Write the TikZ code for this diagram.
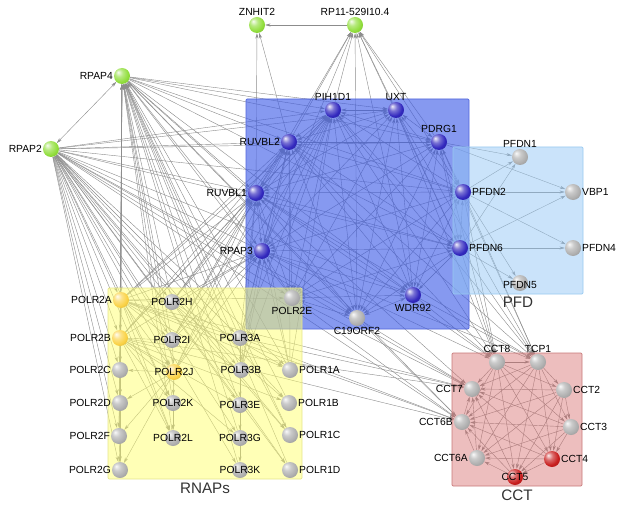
\documentclass[tikz,border=0pt]{standalone}
\usepackage{fontspec}
\setmainfont{Liberation Sans}
\usetikzlibrary{arrows.meta, positioning, fit}
\pgfdeclarelayer{edges}
\pgfdeclarelayer{boxes}
\pgfsetlayers{edges,boxes,main}

\makeatletter
\pgfdeclareradialshading[tikz@ball]{glossy}{\pgfqpoint{-12bp}{12bp}}{%
  color(0bp)=(tikz@ball!8!white);
  color(12bp)=(tikz@ball!65!white);
  color(26bp)=(tikz@ball);
  color(42bp)=(tikz@ball!80!black);
  color(64bp)=(tikz@ball!55!black)}
\makeatother

\definecolor{ppigray}{RGB}{140,140,140}
\definecolor{ballgreen}{RGB}{145,222,60}
\definecolor{ballblue}{RGB}{50,40,190}
\definecolor{ballgray}{RGB}{175,175,175}
\definecolor{ballyellow}{RGB}{250,210,70}
\definecolor{ballred}{RGB}{200,30,30}
\definecolor{corefill}{RGB}{60,90,230}
\definecolor{coreline}{RGB}{80,100,220}
\definecolor{pfdfill}{RGB}{150,200,245}
\definecolor{pfdline}{RGB}{150,200,240}
\definecolor{rnapfill}{RGB}{255,255,110}
\definecolor{rnapline}{RGB}{230,230,140}
\definecolor{cctfill}{RGB}{215,110,110}
\definecolor{cctline}{RGB}{200,120,120}

\begin{document}
\begin{tikzpicture}[x=0.03cm, y=-0.03cm,
    >={Stealth[length=4.5pt, width=2.6pt]},
    every label/.style={font=\fontsize{8.8}{10}\selectfont, inner sep=0.6pt},
    prot/.style={circle, minimum size=0.48cm, inner sep=0pt},
    gball/.style={prot, ball color=ballgreen, shading=glossy},
    bball/.style={prot, ball color=ballblue, shading=glossy},
    sball/.style={prot, ball color=ballgray, shading=glossy},
    yball/.style={prot, ball color=ballyellow, shading=glossy},
    rball/.style={prot, ball color=ballred, shading=glossy},
    ppi/.style={draw=ppigray, line width=0.35pt, ->},
    both/.style={draw=ppigray, line width=0.35pt, <->},
    cplx/.style={draw, rounded corners=1pt, inner sep=0pt, line width=0.6pt},
    cplxname/.style={font=\fontsize{13}{15}\selectfont, text=black!80, inner sep=1pt},
    ]
    \useasboundingbox (0,0) rectangle (624,513);

    % Green partners
    \node[gball, label=above:ZNHIT2] (znhit) at (257,25) {};
    \node[gball, label=above:RP11-529I10.4] (rp) at (355,25) {};
    \node[gball, label=left:RPAP4] (rpap4) at (122,76) {};
    \node[gball, label=left:RPAP2] (rpap2) at (51,149) {};

    % Core ring
    \node[bball, label=left:RUVBL2] (ruvbl2) at (289,142) {};
    \node[bball, label=above:PIH1D1] (pih) at (333,110) {};
    \node[bball, label=above:UXT] (uxt) at (396,110) {};
    \node[bball, label=above:PDRG1] (pdrg) at (439,142) {};
    \node[bball, label=left:RUVBL1] (ruvbl1) at (256,193) {};
    \node[bball, label=right:PFDN2] (pfdn2) at (463,192) {};
    \node[bball, label=left:RPAP3] (rpap3) at (262,251) {};
    \node[bball, label=right:PFDN6] (pfdn6) at (460,248) {};
    \node[sball, label=below:POLR2E] (p2e) at (292,298) {};
    \node[sball, label=below:C19ORF2] (corf) at (357,318) {};
    \node[bball, label=below:WDR92] (wdr) at (413,295) {};

    % PFD
    \node[sball, label=above:PFDN1] (pfdn1) at (520,157) {};
    \node[sball, label=right:VBP1] (vbp) at (573,192) {};
    \node[sball, label=right:PFDN4] (pfdn4) at (573,248) {};
    \node[sball, label={[yshift=-2pt]center:PFDN5}] (pfdn5) at (520,283) {};

    % RNAPs
    \node[yball, label=left:POLR2A] (p2a) at (121,300) {};
    \node[sball, label=center:POLR2H] (p2h) at (172,302) {};
    \node[yball, label=left:POLR2B] (p2b) at (120,338) {};
    \node[sball, label=center:POLR2I] (p2i) at (172,340) {};
    \node[sball, label=center:POLR3A] (p3a) at (240,338) {};
    \node[sball, label=left:POLR2C] (p2c) at (120,370) {};
    \node[yball, label=center:POLR2J] (p2j) at (174,372) {};
    \node[sball, label=center:POLR3B] (p3b) at (241,370) {};
    \node[sball, label=right:POLR1A] (p1a) at (290,370) {};
    \node[sball, label=left:POLR2D] (p2d) at (120,403) {};
    \node[sball, label=center:POLR2K] (p2k) at (173,403) {};
    \node[sball, label=center:POLR3E] (p3e) at (240,405) {};
    \node[sball, label=right:POLR1B] (p1b) at (289,403) {};
    \node[sball, label=left:POLR2F] (p2f) at (119,436) {};
    \node[sball, label=center:POLR2L] (p2l) at (173,438) {};
    \node[sball, label=center:POLR3G] (p3g) at (240,438) {};
    \node[sball, label=right:POLR1C] (p1c) at (290,435) {};
    \node[sball, label=left:POLR2G] (p2g) at (120,470) {};
    \node[sball, label=center:POLR3K] (p3k) at (240,470) {};
    \node[sball, label=right:POLR1D] (p1d) at (290,470) {};

    % CCT
    \node[sball, label=above:CCT8] (cct8) at (497,362) {};
    \node[sball, label=above:TCP1] (tcp) at (538,362) {};
    \node[sball, label=left:CCT7] (cct7) at (472,389) {};
    \node[sball, label=right:CCT2] (cct2) at (564,390) {};
    \node[sball, label=left:CCT6B] (cct6b) at (462,422) {};
    \node[sball, label=right:CCT3] (cct3) at (571,427) {};
    \node[sball, label=left:CCT6A] (cct6a) at (477,458) {};
    \node[rball, label=right:CCT4] (cct4) at (552,459) {};
    \node[rball, label=center:CCT5] (cct5) at (515,477) {};

    % Complex boxes
    \begin{pgfonlayer}{boxes}
      \node[cplx, draw=coreline, fill=corefill, fill opacity=0.62, fit={(246,99) (469,329)}] (corebox) {};
      \node[cplx, draw=pfdline, fill=pfdfill, fill opacity=0.5, fit={(453,147) (583,294)}] (pfdbox) {};
      \node[cplx, draw=rnapline, fill=rnapfill, fill opacity=0.5, fit={(108,288) (302,479)}] (rnapbox) {};
      \node[cplx, draw=cctline, fill=cctfill, fill opacity=0.45, fit={(452,353) (582,486)}] (cctbox) {};
    \end{pgfonlayer}
    \node[cplxname, below=0.3mm of pfdbox] (pfdname) {PFD};
    \node[cplxname, below=0.6mm of rnapbox] (rnapname) {RNAPs};
    \node[cplxname, below=0.6mm of cctbox] (cctname) {CCT};

    \begin{pgfonlayer}{edges}
      % core ring, all pairs
      \foreach \a [count=\i] in {ruvbl2,pih,uxt,pdrg,pfdn2,pfdn6,wdr,corf,p2e,rpap3,ruvbl1}
        \foreach \b [count=\j] in {ruvbl2,pih,uxt,pdrg,pfdn2,pfdn6,wdr,corf,p2e,rpap3,ruvbl1}
          {\ifnum\j>\i \draw[both] (\a) -- (\b); \fi}

      % RP11 and ZNHIT2
      \foreach \s in {ruvbl2,pih,uxt,pdrg,pfdn2,pfdn6,wdr,corf,rpap3,ruvbl1}
        \draw[ppi] (\s) -- (rp);
      \draw[ppi] (rp) -- (znhit);
      \draw[ppi] (ruvbl1) -- (znhit);
      \draw[ppi] (ruvbl2) -- (znhit);

      % RPAP2 and RPAP4
      \draw[both] (rpap2) -- (rpap4);
      \foreach \t in {ruvbl2,pih,uxt,pdrg,pfdn2,pfdn6,wdr,corf,rpap3,ruvbl1} {
        \draw[ppi] (rpap4) -- (\t);
        \draw[ppi] (rpap2) -- (\t);
      }
      \foreach \t in {p2b,p2c,p2d,p2f,p2g,p2h,p2i,p2j,p2k,p2l,p2e,p3a,p3b,p3e,p3g,p3k,p1a,p1b,p1c,p1d} {
        \draw[ppi] (\t) -- (rpap4);
        \draw[ppi] (rpap2) -- (\t);
      }
      \draw[both] (rpap4) -- (p2a);
      \draw[ppi] (rpap2) -- (p2a);

      % prefoldin arm
      \foreach \s in {pfdn2,pfdn6}
        \foreach \t in {pfdn1,vbp,pfdn4,pfdn5}
          \draw[ppi] (\s) -- (\t);
      \draw[ppi] (pdrg) -- (pfdn1);
      \draw[ppi] (pdrg) -- (vbp);

      % CCT ring, all pairs
      \foreach \a [count=\i] in {cct8,tcp,cct2,cct3,cct4,cct5,cct6a,cct6b,cct7}
        \foreach \b [count=\j] in {cct8,tcp,cct2,cct3,cct4,cct5,cct6a,cct6b,cct7}
          {\ifnum\j>\i \draw[ppi] (\a) -- (\b); \fi}

      % partners of CCT
      \foreach \s in {ruvbl1,ruvbl2,rpap3,pih,uxt,pdrg,wdr,pfdn2,pfdn6}
        \foreach \t in {cct8,tcp}
          \draw[ppi] (\s) -- (\t);
      \foreach \s in {rpap2,rpap4,p2a,p2b,p2e,corf,p3a}
        \foreach \t in {cct7,cct6b}
          \draw[ppi] (\s) -- (\t);

      % inside the RNAPs
      \foreach \t in {p2b,p2c,p2d,p2f,p2g,p2h,p2i,p2j,p2k,p2l,p2e,p3a,p3b,p1a}
        \draw[ppi] (p2a) -- (\t);
      \foreach \t in {p2c,p2d,p2f,p2g,p2i,p2j,p2k,p2l,p3e,p3g,p1b}
        \draw[ppi] (p2b) -- (\t);
      \foreach \t in {p2c,p2d,p2k,p2l,p2f,p2g}
        \draw[ppi] (p2j) -- (\t);
      \foreach \t in {p3b,p3e,p3g,p3k,p1c}
        \draw[ppi] (p3a) -- (\t);
      \foreach \t in {p1a,p1b,p1c,p1d}
        \draw[ppi] (p2h) -- (\t);
      \draw[ppi] (p2c) -- (p2d);
      \draw[ppi] (p2d) -- (p2f);
      \draw[ppi] (p2f) -- (p2g);
      \draw[ppi] (p2i) -- (p2j);
      \draw[ppi] (p2k) -- (p2l);

      % RNAPs to the core
      \foreach \s in {p2a,p2b,p2h,p2i,p2j,p3a,p3b,p1a}
        \foreach \t in {rpap3,ruvbl1,ruvbl2,pih}
          \draw[ppi] (\s) -- (\t);
    \end{pgfonlayer}
\end{tikzpicture}
\end{document}
